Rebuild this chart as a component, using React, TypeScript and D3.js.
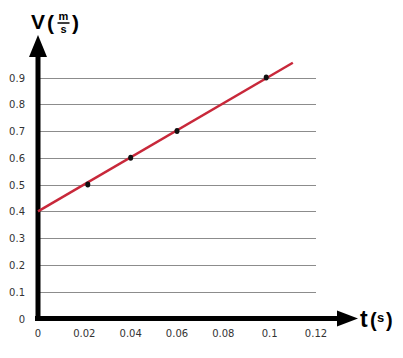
import React from "react";
import * as d3 from "d3";

const yTicks = [0, 0.1, 0.2, 0.3, 0.4, 0.5, 0.6, 0.7, 0.8, 0.9];
const xTicks = [0, 0.02, 0.04, 0.06, 0.08, 0.1, 0.12];
const xTickLabels = ["0", "0.02", "0.04", "0.06", "0.08", "0.1", "0.12"];
const pointT = [0.0215, 0.04, 0.06, 0.0985];
const pointV = [0.5, 0.6, 0.7, 0.9];
const fitT = [0, 0.11];
const fitV = [0.4, 0.955];

export default function App() {
  const W = 403, H = 358;
  const x = d3.scaleLinear().domain([0, 0.12]).range([38, 316]);
  const y = d3.scaleLinear().domain([0, 0.9]).range([318.5, 77.5]);
  const line = d3.line<number>().x((d, i) => x(fitT[i])).y((d) => y(d));
  const font = "Tahoma, 'DejaVu Sans', sans-serif";
  return (
    <svg width={W} height={H} style={{ position: "absolute", left: 0, top: 0, background: "#fff" }}>
      {yTicks.slice(1).map((t) => (
        <line key={t} x1={x(0)} x2={316} y1={Math.round(y(t)) + 0.5} y2={Math.round(y(t)) + 0.5} stroke="#8c8c8c" strokeWidth={1} />
      ))}
      {yTicks.map((t) => (
        <text key={t} x={25} y={y(t) + 4} textAnchor="end" fontFamily={font} fontSize={10} fill="#333">
          {t === 0 ? "0" : t.toFixed(1)}
        </text>
      ))}
      {xTicks.map((t, i) => (
        <text key={t} x={x(t)} y={337} textAnchor="middle" fontFamily={font} fontSize={10} fill="#333">
          {xTickLabels[i]}
        </text>
      ))}
      {/* y axis */}
      <line x1={x(0)} x2={x(0)} y1={y(0) + 2} y2={55} stroke="#000" strokeWidth={5} />
      <polygon points={`${x(0) - 9},57 ${x(0) + 9},57 ${x(0)},35`} fill="#000" />
      {/* x axis */}
      <line x1={x(0) - 3} x2={338} y1={y(0)} y2={y(0)} stroke="#000" strokeWidth={5} />
      <polygon points={`337,${y(0) - 8} 337,${y(0) + 8} 358,${y(0)}`} fill="#000" />
      {/* fit line */}
      <path d={line(fitV) || ""} stroke="#c8283a" strokeWidth={2.5} fill="none" />
      {pointT.map((t, i) => (
        <ellipse key={i} cx={x(t)} cy={y(pointV[i])} rx={2.5} ry={3} fill="#111" />
      ))}
      {/* axis titles */}
      <g fontFamily="'Liberation Sans', Arial, sans-serif" fontWeight="bold" fill="#000">
        <text x={31} y={29} fontSize={21}>V</text>
        <text x={47} y={30} fontSize={21}>(</text>
        <text x={63.5} y={20} fontSize={11} textAnchor="middle">m</text>
        <line x1={57.5} x2={69.5} y1={23} y2={23} stroke="#000" strokeWidth={1.5} />
        <text x={63.5} y={33} fontSize={11} textAnchor="middle">s</text>
        <text x={72} y={30} fontSize={21}>)</text>
        <text x={360} y={327} fontSize={23}>t</text>
        <text x={370} y={327} fontSize={20}>(</text>
        <text x={377} y={322} fontSize={13}>s</text>
        <text x={386} y={327} fontSize={20}>)</text>
      </g>
    </svg>
  );
}
